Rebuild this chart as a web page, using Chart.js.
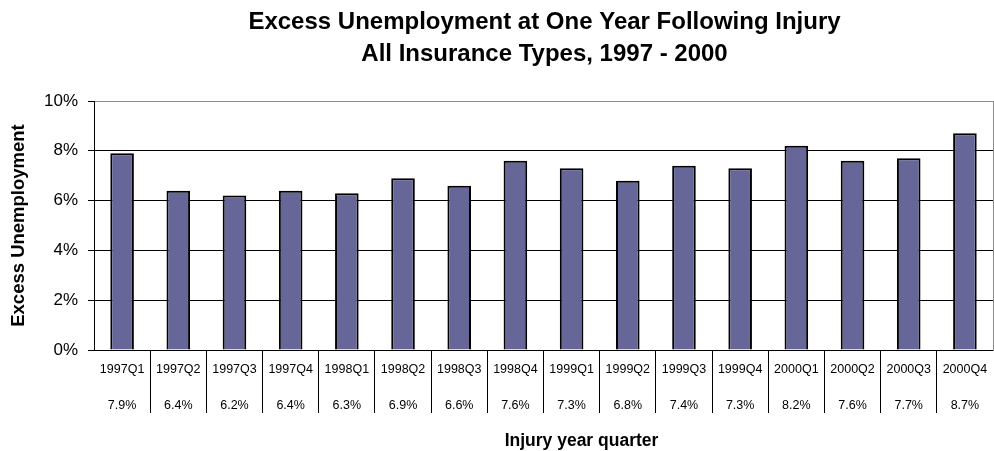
<!DOCTYPE html>
<html>
<head>
<meta charset="utf-8">
<script src="https://cdn.jsdelivr.net/npm/chart.js@4"></script>
<style>
  html, body { margin: 0; padding: 0; background: #ffffff; }
  canvas { display: block; }
</style>
</head>
<body>
<canvas id="c" width="994" height="451"></canvas>
<script>
const titleLines = ['Excess Unemployment at One Year Following Injury', 'All Insurance Types, 1997 - 2000'];
const categories = ['1997Q1','1997Q2','1997Q3','1997Q4','1998Q1','1998Q2','1998Q3','1998Q4',
                    '1999Q1','1999Q2','1999Q3','1999Q4','2000Q1','2000Q2','2000Q3','2000Q4'];
const excessUnemployment = [7.9, 6.4, 6.2, 6.4, 6.3, 6.9, 6.6, 7.6, 7.3, 6.8, 7.4, 7.3, 8.2, 7.6, 7.7, 8.7];
const yTicks = [0, 2, 4, 6, 8, 10];
const yAxisTitle = 'Excess Unemployment';
const xAxisTitle = 'Injury year quarter';

const FONT = "Arial, 'Liberation Sans', sans-serif";

const tableLabels = categories.map((c, i) => [c, excessUnemployment[i].toFixed(1) + '%']);

const titlePlugin = {
  id: 'customTitles',
  afterDraw(chart) {
    const ctx = chart.ctx;
    const a = chart.chartArea;
    const cx = (a.left + a.right) / 2;
    ctx.save();
    ctx.fillStyle = '#000';
    ctx.textAlign = 'center';
    ctx.textBaseline = 'middle';
    ctx.font = 'bold 24px ' + FONT;
    ctx.fillText(titleLines[0], cx + 1, 22);
    ctx.fillText(titleLines[1], cx + 1, 54);
    ctx.font = 'bold 17.5px ' + FONT;
    ctx.fillText(xAxisTitle, cx + 38, 441);
    ctx.restore();
  }
};

new Chart(document.getElementById('c'), {
  type: 'bar',
  data: {
    labels: tableLabels,
    datasets: [{
      data: excessUnemployment,
      backgroundColor: '#666699',
      borderColor: '#000000',
      borderWidth: 2,
      barPercentage: 0.42,
      categoryPercentage: 1.0
    }]
  },
  options: {
    responsive: false,
    animation: false,
    events: [],
    layout: { padding: { top: 101, left: 0, right: 0, bottom: 0 } },
    plugins: {
      legend: { display: false },
      title: { display: false },
      tooltip: { enabled: false }
    },
    scales: {
      x: {
        offset: true,
        grid: {
          offset: true,
          drawOnChartArea: false,
          drawTicks: true,
          tickLength: 63,
          lineWidth: 1,
          color: (c) => (c.type !== 'tick' || c.index === 0) ? 'rgba(0,0,0,0)' : '#000000'
        },
        border: { display: true, color: '#000000', width: 1 },
        ticks: {
          autoSkip: false,
          maxRotation: 0,
          minRotation: 0,
          padding: -61,
          color: '#000000',
          font: { family: FONT, size: 12.5, lineHeight: '36px' }
        },
        afterFit: (s) => { s.height = 101; }
      },
      y: {
        min: 0,
        max: 10,
        afterBuildTicks: (s) => { s.ticks = yTicks.map(v => ({ value: v })); },
        grid: {
          color: (c) => (c.tick && c.tick.value === 10) ? '#8c8c8c' : '#000000',
          tickColor: '#000000',
          tickLength: 6,
          lineWidth: 1
        },
        border: { display: true, color: '#000000', width: 1 },
        ticks: {
          padding: 10,
          color: '#000000',
          font: { family: FONT, size: 17 },
          callback: (v) => v + '%'
        },
        title: {
          display: true,
          text: yAxisTitle,
          color: '#000000',
          font: { family: FONT, size: 18.5, weight: 'bold' },
          padding: { top: 8, bottom: 0 }
        },
        afterFit: (s) => { s.width = 94; }
      },
      yRight: {
        position: 'right',
        display: true,
        min: 0,
        max: 10,
        grid: { display: false, drawTicks: false },
        ticks: { display: false },
        border: { display: true, color: '#8c8c8c', width: 1 },
        afterFit: (s) => { s.width = 1; }
      }
    }
  },
  plugins: [titlePlugin]
});
</script>
</body>
</html>
